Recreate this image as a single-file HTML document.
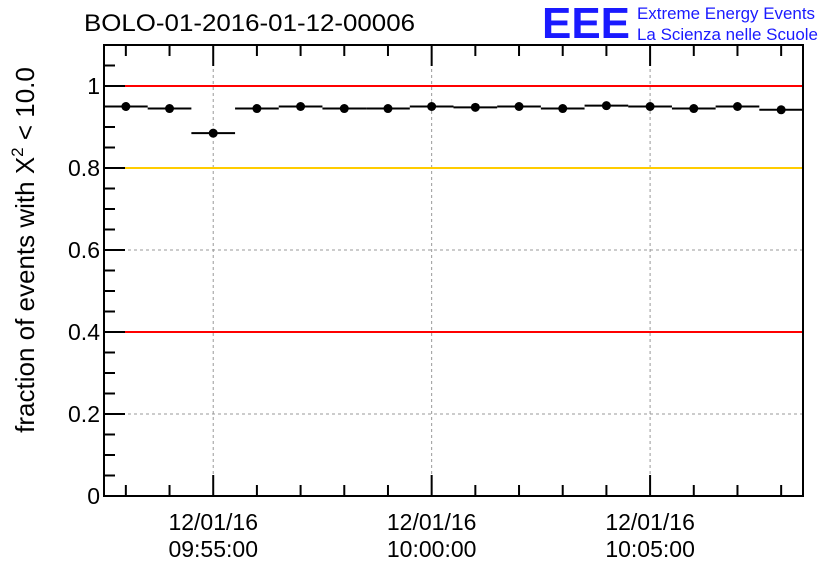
<!DOCTYPE html>
<html><head><meta charset="utf-8"><style>
body{margin:0;background:#fff;width:836px;height:572px;overflow:hidden}
svg text{font-family:"Liberation Sans",Arial,sans-serif}
</style></head><body>
<svg id="chart" width="836" height="572" viewBox="0 0 836 572" xmlns="http://www.w3.org/2000/svg">
<text x="84" y="31" font-size="24" textLength="331" lengthAdjust="spacingAndGlyphs">BOLO-01-2016-01-12-00006</text>
<text x="542" y="38" font-size="44" fill="#1a1aff" font-weight="bold" textLength="88" lengthAdjust="spacingAndGlyphs">EEE</text>
<text x="637" y="19" font-size="16.5" fill="#1a1aff" textLength="178" lengthAdjust="spacingAndGlyphs">Extreme Energy Events</text>
<text x="637" y="40" font-size="16.5" fill="#1a1aff" textLength="181" lengthAdjust="spacingAndGlyphs">La Scienza nelle Scuole</text>
<text transform="translate(34,250) rotate(-90)" text-anchor="middle" font-size="26">fraction of events with Χ<tspan font-size="17" dy="-11">2</tspan><tspan dy="11"> &lt; 10.0</tspan></text>
<g id="grid"></g><g id="lines"></g><g id="marks"></g><g id="axes"></g>
</svg>
<script>
const minutes=[0,1,2,3,4,5,6,7,8,9,10,11,12,13,14,15]; // minutes after 09:53:00
const values=[0.950,0.945,0.885,0.945,0.950,0.945,0.945,0.950,0.948,0.950,0.945,0.952,0.950,0.945,0.950,0.942];
const yTicks=[0,0.2,0.4,0.6,0.8,1];
const yTickLabels=["0","0.2","0.4","0.6","0.8","1"];
const xMajor=[2,7,12];
const xDateLabels=["12/01/16","12/01/16","12/01/16"];
const xTimeLabels=["09:55:00","10:00:00","10:05:00"];
const refLines=[{v:1,c:"#ff0000"},{v:0.8,c:"#ffcc00"},{v:0.4,c:"#ff0000"}];
const L=104,R=803,T=45,B=496,xmin=-0.5,xmax=15.5,ymin=0,ymax=1.1;
const X=m=>L+(m-xmin)/(xmax-xmin)*(R-L);
const Y=v=>B-(v-ymin)/(ymax-ymin)*(B-T);
const NS="http://www.w3.org/2000/svg";
function mk(p,t,a){const e=document.createElementNS(NS,t);for(const k in a)e.setAttribute(k,a[k]);p.appendChild(e);return e;}
const grid=document.getElementById('grid'),lines=document.getElementById('lines'),marks=document.getElementById('marks'),axes=document.getElementById('axes');
yTicks.forEach((v,i)=>{if(v>0&&v<1){const g=mk(grid,'line',{x1:L,x2:R,y1:Y(v),y2:Y(v),stroke:'#999','stroke-dasharray':'3,3','stroke-width':1});
}
const t=mk(axes,'text',{x:L-4,y:Y(v)+8,'text-anchor':'end','font-size':23});t.textContent=yTickLabels[i];
});
xMajor.forEach((m,i)=>{const g=mk(grid,'line',{x1:X(m),x2:X(m),y1:T,y2:B,stroke:'#999','stroke-dasharray':'3,3','stroke-width':1});

const t1=mk(axes,'text',{x:X(m),y:530,'text-anchor':'middle','font-size':23});t1.textContent=xDateLabels[i];

const t2=mk(axes,'text',{x:X(m),y:557,'text-anchor':'middle','font-size':23});t2.textContent=xTimeLabels[i];
});
refLines.forEach(r=>{const l=mk(lines,'line',{x1:L,x2:R,y1:Y(r.v),y2:Y(r.v),stroke:r.c,'stroke-width':2});
});
minutes.forEach((m,i)=>{const e=mk(marks,'line',{x1:X(m-0.5),x2:X(m+0.5),y1:Y(values[i]),y2:Y(values[i]),stroke:'#000','stroke-width':2});

const c=mk(marks,'circle',{cx:X(m),cy:Y(values[i]),r:4.5,fill:'#000'});
});
const f=mk(axes,'rect',{x:L,y:T,width:R-L,height:B-T,fill:'none',stroke:'#000','stroke-width':2});

for(let v=0;v<=1.1001;v+=0.05){const maj=Math.abs(v/0.2-Math.round(v/0.2))<1e-6;const len=maj?21:11;
const t=mk(axes,'line',{x1:L,x2:L+len,y1:Y(v),y2:Y(v),stroke:'#000','stroke-width':2});
}
for(let m=0;m<=15;m++){const maj=xMajor.includes(m);const len=maj?21:11;
const a=mk(axes,'line',{x1:X(m),x2:X(m),y1:B,y2:B-len,stroke:'#000','stroke-width':2});

const b=mk(axes,'line',{x1:X(m),x2:X(m),y1:T,y2:T+len,stroke:'#000','stroke-width':2});
}
</script>
</body></html>
